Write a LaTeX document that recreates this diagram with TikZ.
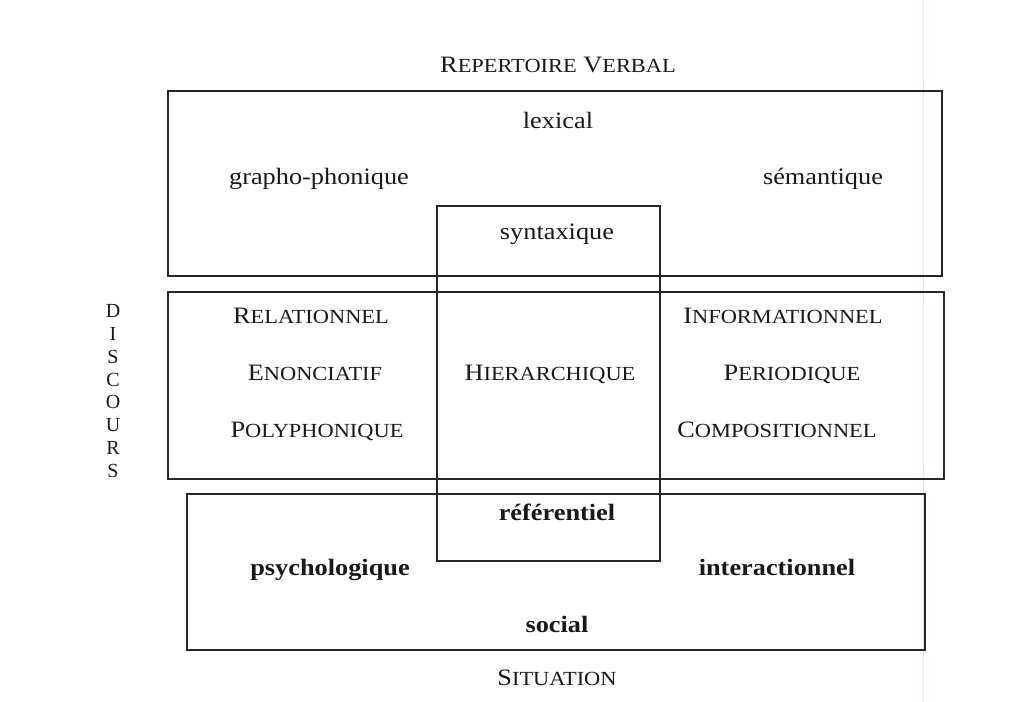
\documentclass[tikz,border=0pt]{standalone}
\usepackage{fontspec}
\setmainfont{Liberation Serif}[FakeStretch=1.12]
\newfontfamily\plainserif{Liberation Serif}
\newcommand{\fsc}[2]{#1{\fontsize{20}{20}\selectfont #2}}
\begin{document}
\begin{tikzpicture}[x=1pt,y=-1pt,
  frame/.style={draw=black!85, line width=2.6pt},
  lbl/.style={anchor=base, inner sep=0pt, font=\fontsize{23.5}{26}\selectfont, text=black!90},
  blbl/.style={lbl, font=\fontsize{23.5}{26}\selectfont\bfseries},
  vlet/.style={anchor=base, inner sep=0pt, font=\plainserif\fontsize{20}{20}\selectfont, text=black!90},
  scanline/.style={draw=red!25!white, line width=1pt, opacity=0.5}]
\useasboundingbox[fill=white] (0,0) rectangle (1013,702);
\draw[scanline] (923,0) -- (923,702);
% boxes
\draw[frame] (168,91) rectangle (942,276);
\draw[frame] (168,292) rectangle (944,479);
\draw[frame] (187,494) rectangle (925,650);
\draw[frame] (437,206) rectangle (660,561);
% top labels
\node[lbl] (rv) at (558,72) {\fsc{R}{EPERTOIRE} \fsc{V}{ERBAL}};
\node[lbl] (lex) at (558,128) {lexical};
\node[lbl] (gp) at (319,184) {grapho-phonique};
\node[lbl] (sem) at (823,184) {sémantique};
\node[lbl] (syn) at (557,239) {syntaxique};
% discours
\node[lbl] (rel) at (311,323) {\fsc{R}{ELATIONNEL}};
\node[lbl] (eno) at (315,380) {\fsc{E}{NONCIATIF}};
\node[lbl] (pol) at (317,437) {\fsc{P}{OLYPHONIQUE}};
\node[lbl] (hie) at (550,380) {\fsc{H}{IERARCHIQUE}};
\node[lbl] (inf) at (783,323) {\fsc{I}{NFORMATIONNEL}};
\node[lbl] (per) at (792,380) {\fsc{P}{ERIODIQUE}};
\node[lbl] (com) at (777,437) {\fsc{C}{OMPOSITIONNEL}};
% vertical DISCOURS
\node[vlet] (d1) at (113,317) {D};
\node[vlet] (d2) at (113,340) {I};
\node[vlet] (d3) at (113,363) {S};
\node[vlet] (d4) at (113,386) {C};
\node[vlet] (d5) at (113,408) {O};
\node[vlet] (d6) at (113,431) {U};
\node[vlet] (d7) at (113,454) {R};
\node[vlet] (d8) at (113,477) {S};
% situation
\node[blbl] (ref) at (557,520) {référentiel};
\node[blbl] (psy) at (330,575) {psychologique};
\node[blbl] (int) at (777,575) {interactionnel};
\node[blbl] (soc) at (557,632) {social};
\node[lbl] (sit) at (557,685) {\fsc{S}{ITUATION}};
\end{tikzpicture}
\end{document}
